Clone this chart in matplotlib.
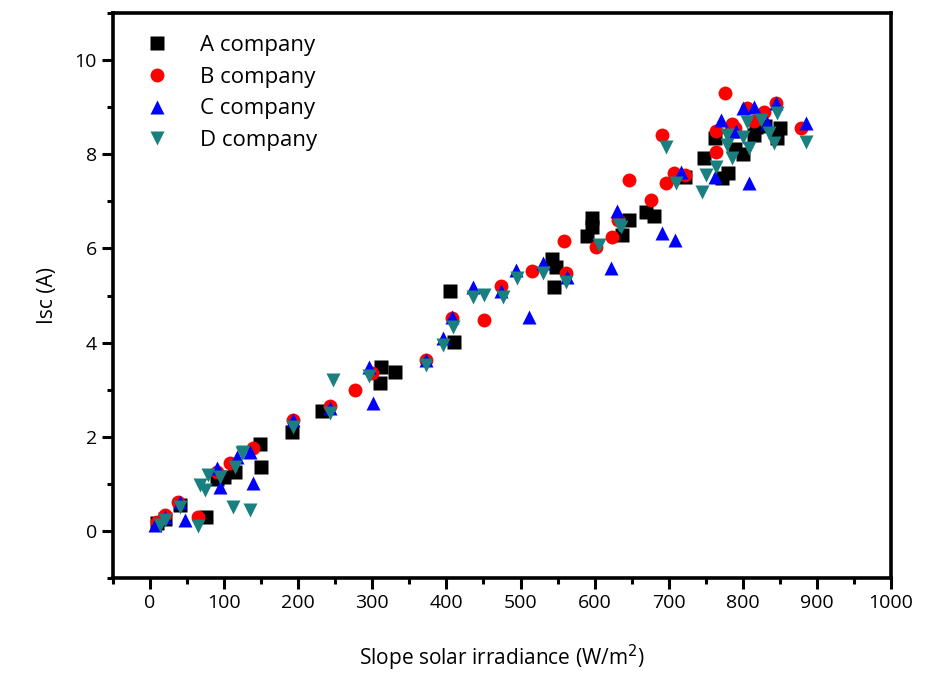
import matplotlib
matplotlib.use('Agg')
import matplotlib.pyplot as plt
from matplotlib.ticker import MultipleLocator

plt.rcParams['font.family'] = ['Liberation Sans Narrow', 'Open Sans', 'DejaVu Sans']

# A company (black squares)
a_x = [10, 20, 40, 75, 90, 100, 115, 148, 150, 192, 232, 310, 312, 330, 405, 410,
       543, 545, 548, 590, 597, 597, 637, 647, 670, 680, 722, 748, 772, 780,
       762, 785, 790, 800, 815, 818, 830, 846, 850]
a_y = [0.18, 0.25, 0.55, 0.3, 1.1, 1.15, 1.25, 1.85, 1.35, 2.1, 2.55, 3.14, 3.48, 3.38, 5.1, 4.02,
       5.78, 5.18, 5.6, 6.27, 6.65, 6.45, 6.28, 6.6, 6.78, 6.68, 7.52, 7.92, 7.5, 7.6,
       8.35, 8.5, 8.1, 8.0, 8.4, 8.58, 8.6, 8.35, 8.55]

# B company (red circles)
b_x = [10, 20, 38, 65, 90, 108, 139, 193, 243, 276, 300, 372, 408, 451, 474, 516,
       562, 559, 602, 624, 632, 646, 676, 691, 697, 707, 722, 764, 764, 776, 786,
       790, 806, 815, 829, 845, 879]
b_y = [0.2, 0.35, 0.62, 0.3, 1.25, 1.44, 1.76, 2.36, 2.65, 2.99, 3.35, 3.63, 4.52, 4.48, 5.2, 5.52,
       5.48, 6.16, 6.04, 6.24, 6.6, 7.45, 7.03, 8.41, 7.38, 7.6, 7.55, 8.5, 8.05, 9.3, 8.65,
       8.55, 8.98, 8.7, 8.9, 9.08, 8.56]

# C company (blue up-triangles)
c_x = [7, 20, 40, 47, 90, 94, 117, 135, 139, 193, 243, 296, 301, 372, 395, 408,
       436, 474, 494, 512, 530, 563, 622, 630, 691, 709, 717, 762, 771, 791, 800,
       809, 815, 832, 845, 885]
c_y = [0.13, 0.3, 0.62, 0.23, 1.33, 0.93, 1.57, 1.68, 1.02, 2.36, 2.61, 3.48, 2.72, 3.63, 4.1, 4.54,
       5.18, 5.1, 5.55, 4.54, 5.7, 5.4, 5.58, 6.8, 6.33, 6.18, 7.62, 7.52, 8.73, 8.5, 8.98,
       7.39, 9.0, 8.66, 9.08, 8.66]

# D company (teal down-triangles)
d_x = [13, 20, 40, 65, 67, 74, 78, 94, 112, 115, 124, 125, 135, 193, 243, 247,
       296, 373, 395, 409, 436, 451, 476, 495, 530, 561, 606, 633, 636, 697, 710,
       745, 750, 764, 778, 778, 786, 800, 805, 809, 825, 836, 842, 846, 885]
d_y = [0.13, 0.23, 0.5, 0.1, 0.98, 0.87, 1.19, 1.15, 0.51, 1.36, 1.65, 1.68, 0.44, 2.2, 2.5, 3.2,
       3.3, 3.52, 3.95, 4.33, 4.97, 5.01, 4.97, 5.37, 5.47, 5.29, 6.07, 6.5, 6.45, 8.16, 7.38,
       7.2, 7.55, 7.73, 8.2, 8.4, 7.92, 8.37, 8.68, 8.13, 8.73, 8.45, 8.24, 8.87, 8.26]

fig = plt.figure(figsize=(9.37, 6.77), dpi=100)
ax = fig.add_axes([0.1206, 0.146, 0.8303, 0.835])

ms = 10
ax.plot(a_x, a_y, 's', color='black', ms=ms - 0.5, mec='none', label='A company')
ax.plot(b_x, b_y, 'o', color='red', ms=ms, mec='none', label='B company')
ax.plot(c_x, c_y, '^', color='blue', ms=ms + 0.5, mec='none', label='C company')
ax.plot(d_x, d_y, 'v', color='#1a7f7f', ms=ms + 0.5, mec='none', label='D company')

ax.set_xlim(-50, 1000)
ax.set_ylim(-1, 11)
ax.xaxis.set_major_locator(MultipleLocator(100))
ax.xaxis.set_minor_locator(MultipleLocator(50))
ax.yaxis.set_major_locator(MultipleLocator(2))
ax.yaxis.set_minor_locator(MultipleLocator(1))
ax.tick_params(which='major', direction='out', length=8, width=2.2, labelsize=14)
ax.tick_params(which='minor', direction='out', length=4.5, width=2.2)
for s in ax.spines.values():
    s.set_linewidth(2.6)

ax.set_xlabel('Slope solar irradiance (W/m$^2$)', fontsize=15, labelpad=22)
ax.set_ylabel('Isc (A)', fontsize=15, labelpad=12)

ax.legend(loc='upper left', frameon=False, fontsize=16, handletextpad=0.9,
          labelspacing=0.48, borderaxespad=0.6, borderpad=0.4, markerscale=1.0)

fig.savefig('out.png', dpi=100)
